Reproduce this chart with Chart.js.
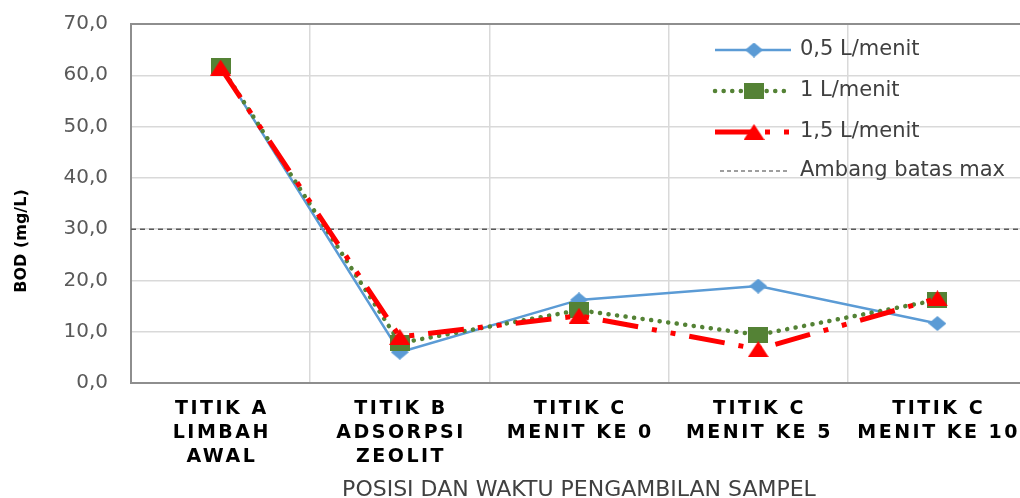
<!DOCTYPE html>
<html>
<head>
<meta charset="utf-8">
<script src="https://cdn.jsdelivr.net/npm/chart.js@4.4.1/dist/chart.umd.min.js"></script>
<style>
  html, body { margin: 0; padding: 0; background: #fff; overflow: hidden; width: 1020px; height: 498px; }
  #wrap { width: 1040px; height: 498px; }
</style>
</head>
<body>
<div id="wrap"><canvas id="c" width="1040" height="498"></canvas></div>
<script>
// Sampling positions (multi-line category labels)
const categories = [
  ["TITIK A", "LIMBAH", "AWAL"],
  ["TITIK B", "ADSORPSI", "ZEOLIT"],
  ["TITIK C", "MENIT KE 0"],
  ["TITIK C", "MENIT KE 5"],
  ["TITIK C", "MENIT KE 10"]
];
const seriesNames = ["0,5 L/menit", "1 L/menit", "1,5 L/menit"];
// BOD (mg/L) for each flow rate
const bod05 = [61.7, 6.0, 16.2, 18.9, 11.6];
const bod10 = [61.8, 7.8, 14.2, 9.4, 16.2];
const bod15 = [61.5, 9.0, 13.1, 6.6, 16.5];
// Maximum allowed BOD
const ambangBatas = 30;
const ambangLabel = "Ambang batas max";
const yMin = 0, yMax = 70, yStep = 10;
const yTitle = "BOD (mg/L)";
const xTitle = "POSISI DAN WAKTU PENGAMBILAN SAMPEL";

const BLUE = '#5B9BD5', GREEN = '#548235', RED = '#FF0000';

// Marker sprites (slightly wide shapes)
function marker(kind, w, h, color) {
  const c = document.createElement('canvas');
  c.width = w; c.height = h;
  const g = c.getContext('2d');
  g.fillStyle = color;
  g.beginPath();
  if (kind === 'diamond') {
    g.moveTo(w / 2, 0); g.lineTo(w, h / 2); g.lineTo(w / 2, h); g.lineTo(0, h / 2);
  } else if (kind === 'square') {
    g.rect(0, 0, w, h);
  } else {
    g.moveTo(w / 2, 0); g.lineTo(w, h); g.lineTo(0, h);
  }
  g.closePath();
  g.fill();
  return c;
}
const mDiamond = marker('diamond', 18, 15, BLUE);
const mSquare = marker('square', 20, 16, GREEN);
const mTriangle = marker('triangle', 21, 16, RED);

const styles = [
  { color: BLUE, width: 2.5, dash: [], cap: 'butt', marker: mDiamond },
  { color: GREEN, width: 4.5, dash: [0.1, 8.5], cap: 'round', marker: mSquare },
  { color: RED, width: 5, dash: [36, 14, 5, 14, 5, 14], cap: 'butt', marker: mTriangle }
];
const seriesData = [bod05, bod10, bod15];

const datasets = seriesData.map((d, i) => ({
  label: seriesNames[i],
  data: d,
  borderColor: styles[i].color,
  backgroundColor: styles[i].color,
  borderWidth: styles[i].width,
  borderDash: styles[i].dash,
  borderCapStyle: styles[i].cap,
  pointStyle: styles[i].marker,
  pointRadius: 8,
  tension: 0,
  order: 3 - i
}));

const frame = {
  id: 'frame',
  beforeDatasetsDraw(chart) {
    const { ctx, chartArea: a, scales: { y } } = chart;
    ctx.save();
    // plot border
    ctx.strokeStyle = '#8E8E8E';
    ctx.lineWidth = 2;
    ctx.beginPath();
    ctx.moveTo(a.right, a.top); ctx.lineTo(a.left, a.top);
    ctx.lineTo(a.left, a.bottom); ctx.lineTo(a.right, a.bottom);
    ctx.stroke();
    // threshold line
    const ty = y.getPixelForValue(ambangBatas);
    ctx.strokeStyle = '#595959';
    ctx.lineWidth = 1.5;
    ctx.setLineDash([5, 4]);
    ctx.beginPath();
    ctx.moveTo(a.left, ty); ctx.lineTo(a.right, ty);
    ctx.stroke();
    ctx.restore();
  },
  afterDraw(chart) {
    const { ctx, chartArea: a, scales: { x } } = chart;
    ctx.save();
    // category labels
    ctx.fillStyle = '#000';
    ctx.font = 'bold 19px "DejaVu Sans"';
    ctx.textBaseline = 'middle';
    ctx.textAlign = 'left';
    ctx.letterSpacing = '2.5px';
    categories.forEach((lines, i) => {
      const cx = x.getPixelForValue(i);
      lines.forEach((t, j) => {
        const w = ctx.measureText(t).width - 2.5;
        ctx.fillText(t, cx - w / 2, a.bottom + 26 + j * 24);
      });
    });
    ctx.letterSpacing = '0px';
    // axis titles
    ctx.fillStyle = '#404040';
    ctx.font = '22px "DejaVu Sans"';
    ctx.textAlign = 'center';
    ctx.textBaseline = 'alphabetic';
    ctx.fillText(xTitle, (a.left + a.right) / 2, 496);
    ctx.save();
    ctx.translate(22, 241);
    ctx.rotate(-Math.PI / 2);
    ctx.fillStyle = '#000';
    ctx.font = 'bold 16px "DejaVu Sans"';
    ctx.textBaseline = 'middle';
    ctx.fillText(yTitle, 0, 0);
    ctx.restore();
    // legend
    const lx0 = 715, lx1 = 791, mx = 754, tx = 800;
    const rows = [50, 91, 132, 171];
    ctx.font = '21px "DejaVu Sans"';
    ctx.textAlign = 'left';
    ctx.textBaseline = 'middle';
    styles.forEach((s, i) => {
      const ly = rows[i];
      ctx.strokeStyle = s.color;
      ctx.lineWidth = s.width;
      ctx.lineCap = s.cap;
      ctx.setLineDash(s.dash);
      ctx.beginPath();
      ctx.moveTo(lx0, ly); ctx.lineTo(lx1, ly);
      ctx.stroke();
      ctx.setLineDash([]);
      ctx.drawImage(s.marker, mx - s.marker.width / 2, ly - s.marker.height / 2);
      ctx.fillStyle = '#404040';
      ctx.fillText(seriesNames[i], tx, ly);
    });
    const ly = rows[3];
    ctx.strokeStyle = '#7F7F7F';
    ctx.lineWidth = 1.5;
    ctx.lineCap = 'butt';
    ctx.setLineDash([4, 3]);
    ctx.beginPath();
    ctx.moveTo(720, ly); ctx.lineTo(788, ly);
    ctx.stroke();
    ctx.setLineDash([]);
    ctx.fillStyle = '#404040';
    ctx.fillText(ambangLabel, tx, ly);
    ctx.restore();
  }
};

new Chart(document.getElementById('c'), {
  type: 'line',
  data: { labels: categories.map(c => c.join(' ')), datasets },
  options: {
    responsive: false,
    animation: false,
    devicePixelRatio: 1,
    layout: { padding: { top: 24, right: 11, left: 0, bottom: 0 } },
    plugins: { legend: { display: false }, tooltip: { enabled: false } },
    scales: {
      x: {
        offset: true,
        grid: { offset: true, color: '#D9D9D9', lineWidth: 1.5, drawTicks: false },
        border: { display: false },
        ticks: { display: false },
        afterFit: s => { s.height = 115; }
      },
      y: {
        min: yMin, max: yMax,
        grid: { color: '#D9D9D9', lineWidth: 1.5, drawTicks: false },
        border: { display: false },
        ticks: {
          stepSize: yStep,
          padding: 23,
          color: '#595959',
          font: { family: 'DejaVu Sans', size: 20 },
          callback: v => v.toFixed(1).replace('.', ',')
        },
        afterFit: s => { s.width = 131; s.paddingTop = 0; s.paddingBottom = 0; }
      }
    }
  },
  plugins: [frame]
});
</script>
</body>
</html>
